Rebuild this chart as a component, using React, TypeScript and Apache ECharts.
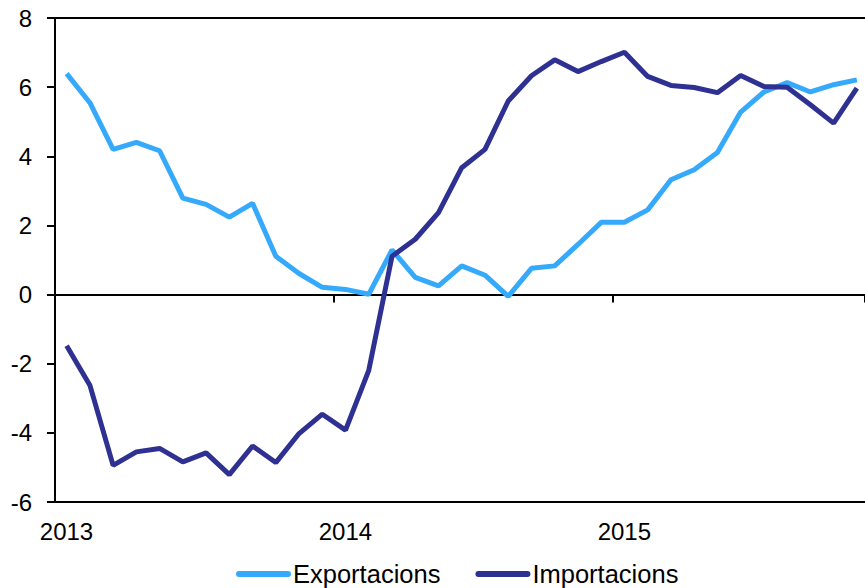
import React, { useEffect, useRef } from "react";
import * as echarts from "echarts";

const years = ["2013", "2014", "2015"];
const months = [
  "2013-01","2013-02","2013-03","2013-04","2013-05","2013-06","2013-07","2013-08","2013-09","2013-10","2013-11","2013-12",
  "2014-01","2014-02","2014-03","2014-04","2014-05","2014-06","2014-07","2014-08","2014-09","2014-10","2014-11","2014-12",
  "2015-01","2015-02","2015-03","2015-04","2015-05","2015-06","2015-07","2015-08","2015-09","2015-10","2015-11",
];
const exportacions = [
  6.39, 5.55, 4.2, 4.4, 4.16, 2.79, 2.61, 2.24, 2.64, 1.11, 0.61, 0.21,
  0.15, 0.01, 1.29, 0.5, 0.25, 0.83, 0.56, -0.05, 0.76, 0.83, 1.45, 2.09,
  2.09, 2.45, 3.32, 3.61, 4.11, 5.28, 5.86, 6.13, 5.86, 6.07, 6.21,
];
const importacions = [
  -1.48, -2.62, -4.94, -4.55, -4.45, -4.84, -4.58, -5.21, -4.38, -4.86, -4.02, -3.46,
  -3.92, -2.19, 1.11, 1.6, 2.37, 3.67, 4.2, 5.6, 6.33, 6.79, 6.45, 6.74,
  7.01, 6.31, 6.05, 5.99, 5.84, 6.34, 6.02, 6.0, 5.49, 4.96, 5.97,
];
const yTicks = [-6, -4, -2, 0, 2, 4, 6, 8];

const FONT = "'Liberation Sans', Arial, sans-serif";
const EXP_COLOR = "#35A9FC";
const IMP_COLOR = "#2E3192";

export default function App() {
  const ref = useRef<HTMLDivElement>(null);
  useEffect(() => {
    document.body.style.margin = "0";
    if (!ref.current) return;
    const chart = echarts.init(ref.current, undefined, { renderer: "svg" });
    const toPts = (vals: number[]) => vals.map((v, i) => [months.indexOf(months[i]) + 0.5, v]);
    const xMax = 34.85;
    chart.setOption({
      animation: false,
      grid: { left: 55, right: 0, top: 18, bottom: 86, containLabel: false },
      legend: {
        left: 236,
        top: 561,
        padding: 0,
        itemWidth: 49,
        itemHeight: 14,
        itemGap: 35,
        textStyle: { fontSize: 25.5, color: "#000", fontFamily: FONT },
        lineStyle: { width: 6, cap: "round" },
        itemStyle: { opacity: 0 },
        data: ["Exportacions", "Importacions"],
      },
      xAxis: [
        {
          type: "value",
          position: "bottom",
          min: 0,
          max: xMax,
          interval: 12,
          axisLine: { onZero: false, show: true, lineStyle: { color: "#000", width: 2 } },
          axisTick: { show: false },
          splitLine: { show: false },
          axisLabel: {
            show: true,
            showMinLabel: true,
            showMaxLabel: false,
            margin: 17,
            fontSize: 24,
            color: "#000",
            fontFamily: FONT,
            padding: [0, 0, 0, 23],
            formatter: (v: number) => (v % 12 === 0 && years[v / 12] ? years[v / 12] : ""),
          },
        },
        {
          type: "value",
          position: "top",
          min: 0,
          max: xMax,
          interval: 12,
          axisLine: { onZero: true, show: true, lineStyle: { color: "#000", width: 2 } },
          axisTick: { show: true, inside: true, length: 8, lineStyle: { color: "#000", width: 2 } },
          splitLine: { show: false },
          axisLabel: { show: false },
        },
      ],
      yAxis: {
        type: "value",
        min: yTicks[0],
        max: yTicks[yTicks.length - 1],
        interval: 2,
        axisLine: { show: true, lineStyle: { color: "#000", width: 2 } },
        axisTick: { show: true, inside: false, length: 8, lineStyle: { color: "#000", width: 2 } },
        axisLabel: { margin: 23, fontSize: 24, color: "#000", fontFamily: FONT },
        splitLine: {
          show: true,
          lineStyle: {
            width: 2,
            color: yTicks.map((t, i) => (i === yTicks.length - 1 ? "#000" : "rgba(0,0,0,0)")),
          },
        },
      },
      series: [
        {
          name: "Exportacions",
          type: "line",
          xAxisIndex: 0,
          data: toPts(exportacions),
          showSymbol: false,
          symbol: "none",
          lineStyle: { width: 5, color: EXP_COLOR },
          itemStyle: { color: EXP_COLOR },
        },
        {
          name: "Importacions",
          type: "line",
          xAxisIndex: 0,
          data: toPts(importacions),
          showSymbol: false,
          symbol: "none",
          lineStyle: { width: 5, color: IMP_COLOR },
          itemStyle: { color: IMP_COLOR },
        },
      ],
    });
    return () => chart.dispose();
  }, []);
  return <div ref={ref} style={{ position: "absolute", left: 0, top: 0, width: 865, height: 588 }} />;
}
